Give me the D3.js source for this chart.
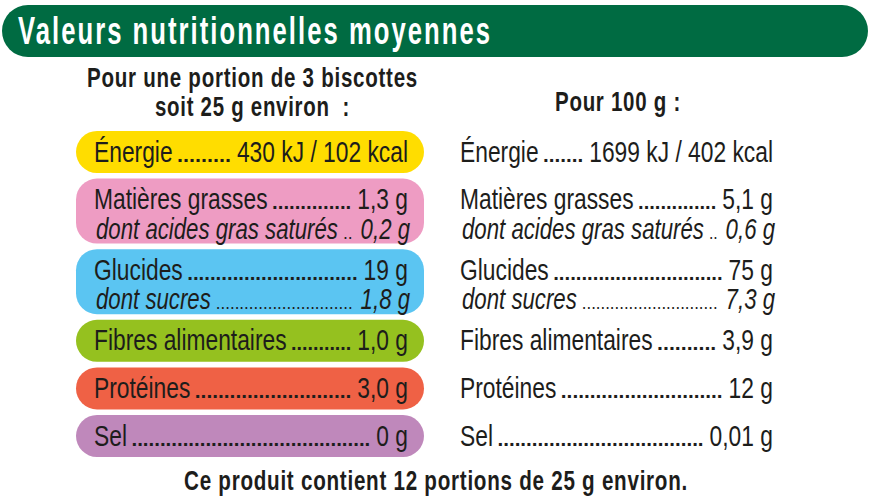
<!DOCTYPE html>
<html>
<head>
<meta charset="utf-8">
<title>Valeurs nutritionnelles moyennes</title>
<style>
html, body { margin: 0; padding: 0; background: #fff; }
svg { display: block; }
text { font-family: "Liberation Sans", sans-serif; fill: #1d1d1b; }
</style>
</head>
<body>
<svg id="chart" width="872" height="496"></svg>
<script src="https://cdnjs.cloudflare.com/ajax/libs/d3/7.8.5/d3.min.js"></script>
<script>
var title = 'Valeurs nutritionnelles moyennes';
var portionHead = ['Pour une portion de 3 biscottes', 'soit 25 g environ\u00a0 :'];
var per100Head = 'Pour 100 g :';
var footer = 'Ce produit contient 12 portions de 25 g environ.';

var nutrients = ['Énergie', 'Matières grasses', 'Glucides', 'Fibres alimentaires', 'Protéines', 'Sel'];
var subNutrients = [null, 'dont acides gras saturés', 'dont sucres', null, null, null];
var portionValues = ['430 kJ / 102 kcal', '1,3 g', '19 g', '1,0 g', '3,0 g', '0 g'];
var portionSubValues = [null, '0,2 g', '1,8 g', null, null, null];
var per100Values = ['1699 kJ / 402 kcal', '5,1 g', '75 g', '3,9 g', '12 g', '0,01 g'];
var per100SubValues = [null, '0,6 g', '7,3 g', null, null, null];
var pillColors = ['#ffdd00', '#ee9cc3', '#5bc5f2', '#95c11f', '#ef6145', '#bf88bb'];

var svg = d3.select('#chart');

// squeeze text horizontally so it matches the condensed label face
function put(str, x, y, opt) {
  var t = svg.append('text')
    .attr('x', x)
    .attr('y', y)
    .attr('font-size', opt.size)
    .attr('font-weight', opt.bold ? 700 : 400)
    .attr('font-style', opt.italic ? 'italic' : 'normal')
    .attr('text-anchor', opt.anchor || 'start')
    .style('white-space', 'pre')
    .style('letter-spacing', (opt.spacing || 0) + 'px')
    .text(str);
  if (opt.fill) t.style('fill', opt.fill);
  var w = t.node().getComputedTextLength() * (opt.squeeze || 1);
  if (opt.width) w = opt.width;
  t.attr('textLength', w).attr('lengthAdjust', 'spacingAndGlyphs');
  return w;
}

// header band
svg.append('rect')
  .attr('x', 2).attr('y', 5)
  .attr('width', 866).attr('height', 52)
  .attr('rx', 26)
  .attr('fill', '#006b42');
put(title, 18, 44, {size: 38, bold: true, fill: '#fff', width: 474, spacing: 3});

put(portionHead[0], 252.5, 87, {size: 28, bold: true, anchor: 'middle', width: 331, spacing: 1});
put(portionHead[1], 252.5, 116, {size: 28, bold: true, anchor: 'middle', width: 195, spacing: 1});
put(per100Head, 618, 110.5, {size: 28, bold: true, anchor: 'middle', width: 126, spacing: 1});
put(footer, 436, 490, {size: 28, bold: true, anchor: 'middle', width: 504, spacing: 1});

// rows: one line or two lines, stacked with a constant gap
var rowHeight = function(i) { return subNutrients[i] ? 65 : 42; };
var rowTop = [];
nutrients.forEach(function(d, i) {
  rowTop.push(i === 0 ? 131 : rowTop[i - 1] + rowHeight(i - 1) + 5.6);
});

svg.selectAll('rect.pill')
  .data(nutrients)
  .enter()
  .append('rect')
  .attr('class', 'pill')
  .attr('x', 76)
  .attr('y', function(d, i) { return rowTop[i]; })
  .attr('width', 348)
  .attr('height', function(d, i) { return rowHeight(i); })
  .attr('rx', 21)
  .attr('fill', function(d, i) { return pillColors[i]; });

var rowSize = 30;

function line(label, value, left, right, y, italic) {
  var squeeze = italic ? 0.74 : 0.76;
  var lw = put(label, left, y, {size: rowSize, italic: italic, squeeze: squeeze});
  var vw = put(value, right, y, {size: rowSize, italic: italic, squeeze: squeeze, anchor: 'end'});
  // dot leader between label and value
  var from = left + lw + (italic ? 5 : 4.5);
  var to = right - vw - (italic ? 8 : 6);
  var step = italic ? 4.7 : 5.7;
  var n = Math.max(1, Math.round((to - from) / step));
  put(d3.range(n).map(function() { return '.'; }).join(''), from, y, {
    size: italic ? 18 : 20,
    bold: !italic,
    width: to - from
  });
}

function column(values, subValues, left, right) {
  nutrients.forEach(function(d, i) {
    var y = rowTop[i] + 30.5;
    line(d, values[i], left, right, y, false);
    if (subNutrients[i]) {
      line(subNutrients[i], subValues[i], left + 2, right + 2, y + 29.5, true);
    }
  });
}

column(portionValues, portionSubValues, 94, 408);
column(per100Values, per100SubValues, 460, 773);
</script>
</body>
</html>
